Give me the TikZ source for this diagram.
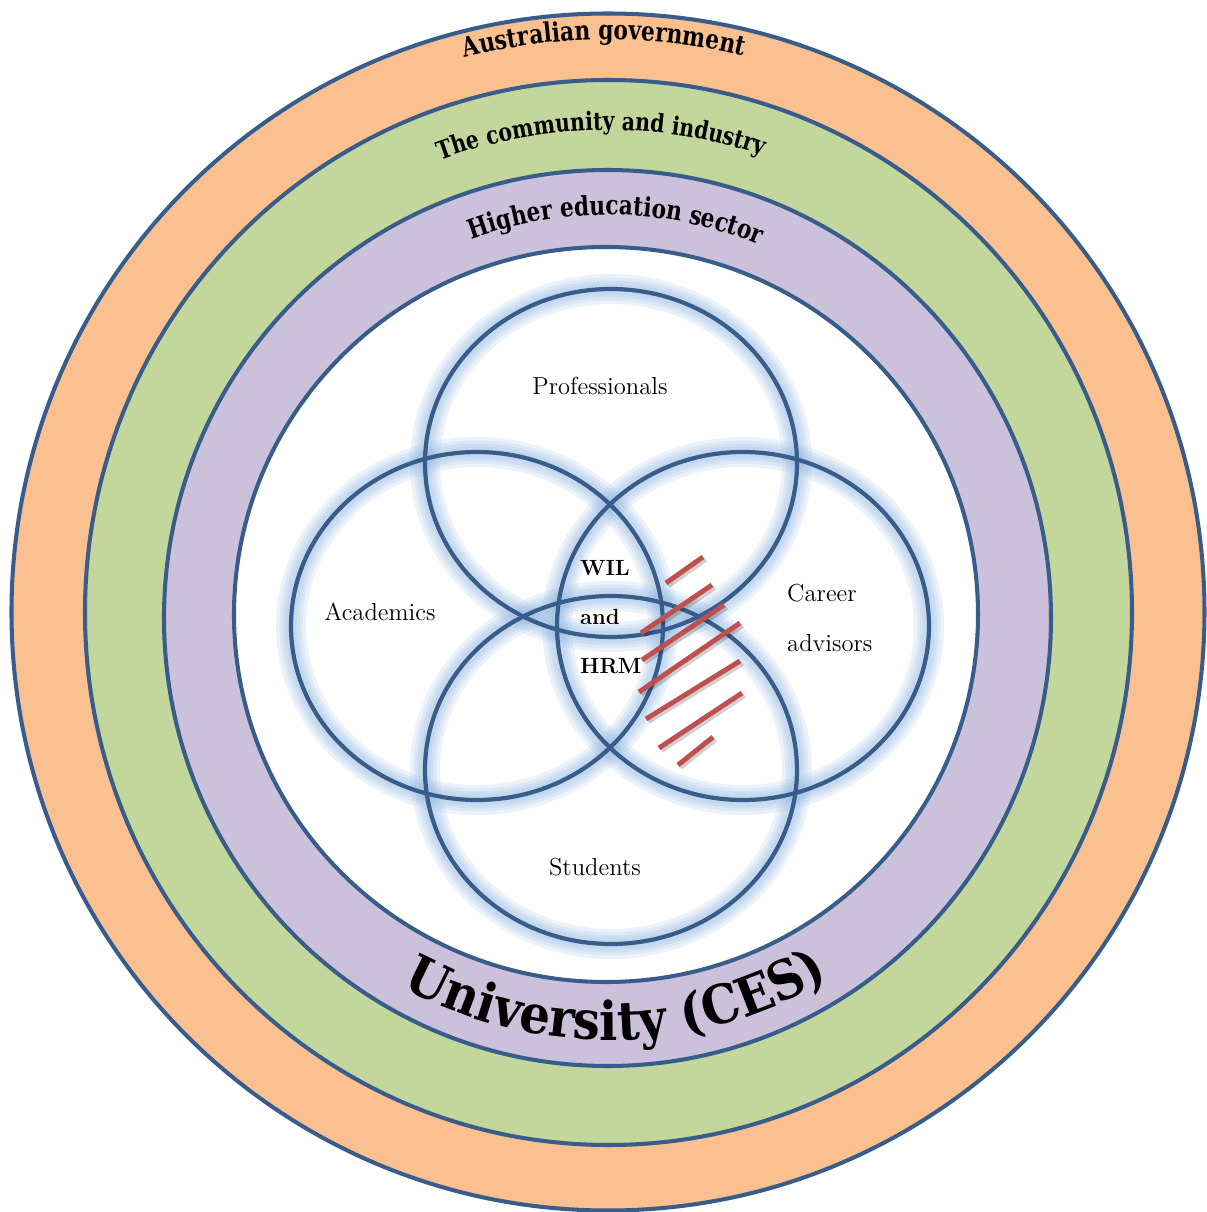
\documentclass[tikz,border=0pt]{standalone}
\usepackage{fontspec}
\usepackage{xcolor}
\usepackage{tikz}
\usetikzlibrary{positioning,decorations.text}

\newfontfamily\ringfont{DejaVu Serif Condensed}[FakeStretch=0.9]
\newfontfamily\unifont{DejaVu Serif Condensed}

\definecolor{ringblue}{RGB}{56,93,138}
\definecolor{glowblue}{RGB}{141,180,226}
\definecolor{govorange}{RGB}{250,192,144}
\definecolor{indgreen}{RGB}{195,214,155}
\definecolor{hepurple}{RGB}{204,193,218}
\definecolor{hatchred}{RGB}{192,80,77}

\begin{document}
\begin{tikzpicture}[
  ring/.style={
    draw=ringblue,
    line width=2.3pt
  },
  glow/.style={
    draw=glowblue,
    line width=#1,
    opacity=0.16
  },
  venn/.style={
    draw=ringblue,
    line width=2.4pt
  },
  vlabel/.style={
    font=\fontsize{14}{28}\selectfont,
    align=center
  },
  core/.style={
    font=\bfseries\fontsize{12.5}{28}\selectfont,
    align=left
  },
  hatch/.style={
    draw=hatchred,
    line width=2.8pt
  }
]

\fill[white] (-12.16,-12.0) rectangle (11.96,12.24);
\useasboundingbox (-12.16,-12.0) rectangle (11.96,12.24);

% --- NESTED RINGS ---
\draw[ring, fill=govorange] (0,0) ellipse [x radius=11.93, y radius=11.97];
\draw[ring, fill=indgreen] (0.01,-0.01) ellipse [x radius=10.47, y radius=10.65];
\draw[ring, fill=hepurple] (-0.01,-0.12) ellipse [x radius=8.87, y radius=8.96];
\draw[ring, fill=white] (-0.04,-0.05) ellipse [x radius=7.44, y radius=7.35];

% --- RING TITLES ---
\path[decorate, decoration={text along path, text align=center,
    text={|\ringfont\bfseries\fontsize{15.3}{15}\selectfont|Australian government}}]
  (160.4:11.45) arc[start angle=160.4, end angle=20.4, radius=11.45];
\path[decorate, decoration={text along path, text align=center,
    text={|\ringfont\bfseries\fontsize{14.3}{15}\selectfont|The community and industry}}]
  (160.8:9.64) arc[start angle=160.8, end angle=20.8, radius=9.64];
\path[decorate, decoration={text along path, text align=center,
    text={|\ringfont\bfseries\fontsize{15.2}{15}\selectfont|Higher education sector}}]
  (158.85:7.94) arc[start angle=158.85, end angle=18.85, radius=7.94];
\path[decorate, decoration={text along path, text align=center,
    text={|\unifont\bfseries\fontsize{30.5}{30}\selectfont|University (CES)}}]
  (201.2:8.56) arc[start angle=201.2, end angle=341.2, radius=8.56];

% --- VENN OF STAKEHOLDERS ---
\foreach \cx/\cy in {0.06/2.98, -2.62/-0.28, 2.70/-0.28, 0.06/-3.16} {
  \foreach \w in {0.6cm, 0.46cm, 0.34cm, 0.22cm}
    \draw[glow=\w] (\cx,\cy) ellipse [x radius=3.72, y radius=3.48];
}
\foreach \cx/\cy in {0.06/2.98, -2.62/-0.28, 2.70/-0.28, 0.06/-3.16}
  \draw[venn] (\cx,\cy) ellipse [x radius=3.72, y radius=3.48];

\node[vlabel] (prof) at (-0.16,4.52) {Professionals};
\node[vlabel] (acad) at (-4.56,0.0) {Academics};
\node[vlabel, align=left, anchor=west] (career) at (3.46,-0.12) {Career\\advisors};
\node[vlabel] (stud) at (-0.26,-5.10) {Students};
\node[core, anchor=west] (wil) at (-0.68,-0.10) {WIL\\and\\HRM};

% --- HATCHING ---
\foreach \ax/\ay/\bx/\by in {1.16/0.58/1.90/1.10, 0.66/-0.42/2.08/0.54,
    0.68/-0.96/2.32/0.14, 0.62/-1.60/2.64/-0.22, 0.76/-2.14/2.64/-0.98,
    1.02/-2.72/2.68/-1.62, 1.40/-3.06/2.10/-2.50} {
  \draw[hatch, draw=black, opacity=0.18] (\ax+0.05,\ay-0.05) -- (\bx+0.05,\by-0.05);
  \draw[hatch] (\ax,\ay) -- (\bx,\by);
}

\end{tikzpicture}
\end{document}
